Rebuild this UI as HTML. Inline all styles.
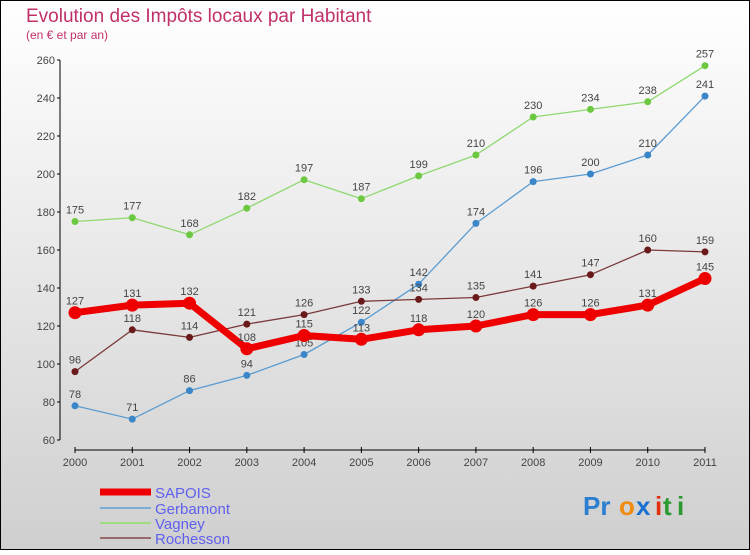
<!DOCTYPE html>
<html><head><meta charset="utf-8"><style>
body{margin:0}
svg text{font-family:"Liberation Sans",sans-serif}
</style></head><body>
<svg width="750" height="550" xmlns="http://www.w3.org/2000/svg">
<defs><linearGradient id="bg" x1="0" y1="0" x2="0" y2="1"><stop offset="0" stop-color="#ffffff"/><stop offset="1" stop-color="#cfcfcf"/></linearGradient></defs>
<rect x="0.5" y="0.5" width="749" height="549" fill="url(#bg)" stroke="#000"/>
<text x="26" y="22" font-size="19" fill="#c0306a">Evolution des Impôts locaux par Habitant</text>
<text x="26" y="39" font-size="12" fill="#c0306a">(en € et par an)</text>
<g id="axes"></g>
<g id="series"></g>
<g id="legend"></g>
<g font-size="26" font-weight="bold">
<text x="583" y="515" fill="#2a7fd0">Pr</text><text x="619" y="515" fill="#f08a10">o</text><text x="636" y="515" fill="#1a70d0">x</text><text x="655" y="515" fill="#e03010">i</text><text x="663" y="515" fill="#2a9a30">t</text><text x="677" y="515" fill="#2a9a30">i</text>
</g>
</svg>
<script>
const years=[2000,2001,2002,2003,2004,2005,2006,2007,2008,2009,2010,2011];
const yTicks=[60,80,100,120,140,160,180,200,220,240,260];
const sapois=[127,131,132,108,115,113,118,120,126,126,131,145];
const gerbamont=[78,71,86,94,105,122,142,174,196,200,210,241];
const vagney=[175,177,168,182,197,187,199,210,230,234,238,257];
const rochesson=[96,118,114,121,126,133,134,135,141,147,160,159];
const NS="http://www.w3.org/2000/svg";
const X=i=>75+i*(630/11);
const Y=v=>440-(v-60)*1.9;
function mk(t,a,p){const e=document.createElementNS(NS,t);for(const k in a)e.setAttribute(k,a[k]);p.appendChild(e);return e;}
const ax=document.getElementById('axes');
const yl=mk('line',{x1:60,y1:60,x2:60,y2:440,stroke:'#000'},ax);


yTicks.forEach(v=>{
 mk('line',{x1:57,y1:Y(v),x2:60,y2:Y(v),stroke:'#000'},ax);
 const t=mk('text',{x:55,y:Y(v)+4,'font-size':11,fill:'#444','text-anchor':'end'},ax);t.textContent=v;
 
 
});
const xl=mk('line',{x1:75,y1:450,x2:705,y2:450,stroke:'#000'},ax);


years.forEach((y,i)=>{
 mk('line',{x1:X(i),y1:447,x2:X(i),y2:453,stroke:'#000'},ax);
 const t=mk('text',{x:X(i),y:466,'font-size':11,fill:'#444','text-anchor':'middle'},ax);t.textContent=y;
 
 
});
const sg=document.getElementById('series');
const defs=[['gerbamont',gerbamont,'#5a9bd0','#3a86c8',1.3,3.5],['vagney',vagney,'#8fd870','#6cc840',1.3,3.5],['rochesson',rochesson,'#7a3a3a','#6a1a1a',1.3,3.5],['sapois',sapois,'#ee0000','#ee0000',7,6.5]];
defs.forEach(([n,d,c,pc,w,r])=>{
 const g=mk('g',{},sg);
 
 
 const p=mk('polyline',{points:d.map((v,i)=>X(i)+','+Y(v)).join(' '),fill:'none',stroke:c,'stroke-width':w,'stroke-linejoin':'round'},g);
 
 
 d.forEach((v,i)=>{
  const ci=mk('circle',{cx:X(i),cy:Y(v),r:r,fill:pc},g);
  
  
  const t=mk('text',{x:X(i),y:Y(v)-8,'font-size':11,fill:'#444','text-anchor':'middle'},g);t.textContent=v;
  
  
 });
});
const lg=document.getElementById('legend');
[['SAPOIS','#ee0000',7,492],['Gerbamont','#7aaed6',2,508],['Vagney','#a0dc80',2,523],['Rochesson','#9a6a6a',2,538]].forEach(([n,c,w,y])=>{
 const g=mk('g',{},lg);
 
 
 mk('line',{x1:100,y1:y,x2:151,y2:y,stroke:c,'stroke-width':w},g);
 const t=mk('text',{x:155,y:y+6,'font-size':15,fill:'#6060ee'},g);t.textContent=n;
});
</script>
</body></html>
